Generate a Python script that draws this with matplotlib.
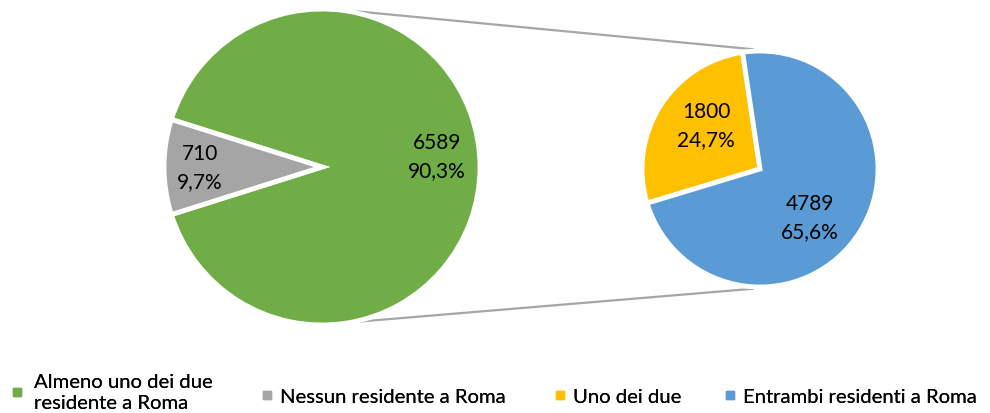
import numpy as np
import matplotlib
matplotlib.use("Agg")
import matplotlib.pyplot as plt
from matplotlib.lines import Line2D

plt.rcParams['font.family'] = ['Lato', 'DejaVu Sans']

# Data
main_labels = ["Almeno uno dei due\nresidente a Roma", "Nessun residente a Roma"]
main_values = [6589, 710]
main_pct = ["90,3%", "9,7%"]
sub_labels = ["Uno dei due", "Entrambi residenti a Roma"]
sub_values = [1800, 4789]
sub_pct = ["24,7%", "65,6%"]

main_colors = ["#70AD47", "#A5A5A5"]
sub_colors = ["#FFC000", "#5B9BD5"]

W, H = 990, 414
fig = plt.figure(figsize=(W / 100, H / 100), dpi=100)
ax = fig.add_axes([0, 0, 1, 1])

c1, r1 = (322, 414 - 168), 158
c2, r2 = (760, 414 - 170), 118

total_main = sum(main_values)
gray_span = 360 * main_values[1] / total_main
start1 = 180 + gray_span / 2
ax.pie(main_values, colors=main_colors, startangle=start1, center=c1, radius=r1,
       counterclock=True, frame=True,
       wedgeprops=dict(edgecolor='white', linewidth=3.5))

ax.pie(sub_values, colors=sub_colors, startangle=98.5, center=c2, radius=r2,
       counterclock=True, frame=True,
       wedgeprops=dict(edgecolor='white', linewidth=3.5))
ax.set_xlim(0, W)
ax.set_ylim(0, H)
ax.set_aspect('equal')
ax.axis('off')

fs = 15
lab_kw = dict(ha='center', va='center', fontsize=fs, linespacing=1.55)
ax.text(437, 414 - 157, f"{main_values[0]}\n{main_pct[0]}", **lab_kw)
ax.text(200, 414 - 168, f"{main_values[1]}\n{main_pct[1]}", **lab_kw)
ax.text(706, 414 - 126, f"{sub_values[0]}\n{sub_pct[0]}", **lab_kw)
ax.text(810, 414 - 218, f"{sub_values[1]}\n{sub_pct[1]}", **lab_kw)

# Connector lines
def pt(c, r, ang):
    a = np.deg2rad(ang)
    return c[0] + r * np.cos(a), c[1] + r * np.sin(a)

for a1, a2 in [(79, 93.5), (-76.5, 266.5)]:
    p1 = pt(c1, r1 + 1, a1)
    p2 = pt(c2, r2 + 2, a2)
    ax.plot([p1[0], p2[0]], [p1[1], p2[1]], color='#A6A6A6', lw=1.6, zorder=0)

# Legend entries (positioned individually, like Excel)
lfs = 14.6
fs_px = lfs * 100 / 72
hl = 0.4
entries = [
    (main_labels[0], main_colors[0], 17, 0.66, 393),
    (main_labels[1], main_colors[1], 267, 0.42, 397),
    (sub_labels[0], sub_colors[0], 560, 0.42, 397),
    (sub_labels[1], sub_colors[1], 730, 0.42, 397),
]
for text, col, xc, pad, yc in entries:
    h = Line2D([], [], marker='s', linestyle='none', markersize=5.5, color=col)
    left = xc - hl * fs_px / 2
    leg = fig.legend([h], [text], loc='center left',
                     bbox_to_anchor=(left / W, 1 - yc / H), frameon=False,
                     fontsize=lfs, handlelength=hl, handletextpad=pad,
                     borderaxespad=0, borderpad=0)
    for t in leg.get_texts():
        t.set_linespacing(1.3)
    fig.add_artist(leg)

fig.savefig("out.png", dpi=100)
